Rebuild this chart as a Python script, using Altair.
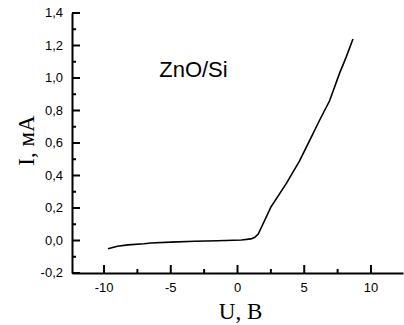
import altair as alt
import pandas as pd

# I-V curve of ZnO/Si heterostructure
U = [-9.7, -9.0, -8.2, -7.0, -6.5, -5.0, -3.2, -1.5, 0.3, 1.0, 1.3, 1.55, 1.9,
     2.5, 3.65, 4.65, 5.4, 6.15, 6.9, 7.65, 8.15, 8.65]
I = [-0.051, -0.035, -0.027, -0.02, -0.015, -0.01, -0.005, -0.002, 0.003, 0.01,
     0.02, 0.04, 0.10, 0.205, 0.35, 0.49, 0.615, 0.74, 0.86, 1.03, 1.13, 1.24]

y_major = [-0.2, 0.0, 0.2, 0.4, 0.6, 0.8, 1.0, 1.2, 1.4]
y_labels = ["-0,2", "0,0", "0,2", "0,4", "0,6", "0,8", "1,0", "1,2", "1,4"]
y_minor = [-0.1, 0.1, 0.3, 0.5, 0.7, 0.9, 1.1, 1.3]
x_major = [-10, -5, 0, 5, 10]
x_labels = ["-10", "-5", "0", "5", "10"]
x_minor = [-7.5, -2.5, 2.5, 7.5]

label_text = ["ZnO/Si"]
label_u = [-3.3]
label_i = [1.05]

W, H = 331, 260
xs = alt.Scale(domain=[-12.4, 12.4], nice=False, zero=False)
ys = alt.Scale(domain=[-0.2, 1.4], nice=False, zero=False)

LABEL_FONT = "Liberation Sans"
TITLE_FONT = "Liberation Serif"

x_axis = alt.Axis(
    values=x_major, ticks=False, grid=False, labels=False, title="U, В",
    domainColor="black", domainWidth=2,
    titleFont=TITLE_FONT, titleFontSize=23, titleFontWeight="normal",
    titleColor="black", titleX=168, titleY=38, titleBaseline="middle",
)
y_axis = alt.Axis(
    values=y_major, ticks=False, grid=False, labels=False, title="I, мА",
    domainColor="black", domainWidth=2,
    titleFont=TITLE_FONT, titleFontSize=23, titleFontWeight="normal",
    titleColor="black", titleX=-46, titleY=127, titleAngle=-90,
    titleBaseline="middle", titleAlign="center",
)

line = alt.Chart(pd.DataFrame({"U": U, "I": I})).mark_line(
    color="black", strokeWidth=1.6
).encode(
    x=alt.X("U:Q", scale=xs, axis=x_axis),
    y=alt.Y("I:Q", scale=ys, axis=y_axis),
)

ymaj = alt.Chart(pd.DataFrame({"v": y_major})).mark_rule(color="black", strokeWidth=2).encode(
    y=alt.Y("v:Q", scale=ys), x=alt.value(0), x2=alt.value(8)
)
ymin = alt.Chart(pd.DataFrame({"v": y_minor})).mark_rule(color="black", strokeWidth=2).encode(
    y=alt.Y("v:Q", scale=ys), x=alt.value(0), x2=alt.value(4)
)
xmaj = alt.Chart(pd.DataFrame({"w": x_major})).mark_rule(color="black", strokeWidth=2).encode(
    x=alt.X("w:Q", scale=xs), y=alt.value(H), y2=alt.value(H - 8)
)
xmin = alt.Chart(pd.DataFrame({"w": x_minor})).mark_rule(color="black", strokeWidth=2).encode(
    x=alt.X("w:Q", scale=xs), y=alt.value(H), y2=alt.value(H - 4)
)

ylab = alt.Chart(pd.DataFrame({"v": y_major, "t": y_labels})).mark_text(
    font=LABEL_FONT, fontSize=13, color="black", align="right", baseline="middle"
).encode(y=alt.Y("v:Q", scale=ys), x=alt.value(-9), text="t:N")
xlab = alt.Chart(pd.DataFrame({"w": x_major, "t": x_labels})).mark_text(
    font=LABEL_FONT, fontSize=13, color="black", align="center", baseline="middle"
).encode(x=alt.X("w:Q", scale=xs), y=alt.value(H + 15), text="t:N")

txt = alt.Chart(pd.DataFrame({"t": label_text, "u": label_u, "i": label_i})).mark_text(
    font=LABEL_FONT, fontSize=22, color="black", align="center", baseline="middle"
).encode(
    x=alt.X("u:Q", scale=xs), y=alt.Y("i:Q", scale=ys), text="t:N"
)

chart = alt.layer(line, ymaj, ymin, xmaj, xmin, ylab, xlab, txt).properties(
    width=W, height=H, autosize="none",
    padding={"left": 72, "top": 13, "right": 1, "bottom": 52},
    background="white",
).configure_view(stroke=None)

chart.save("out.html", embed_options={"renderer": "svg", "actions": False})
